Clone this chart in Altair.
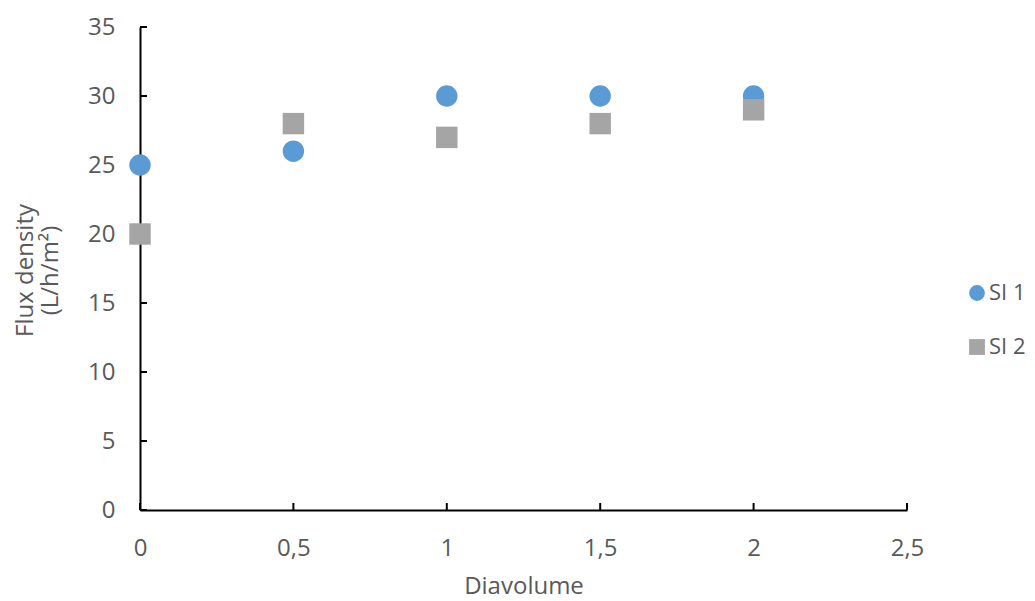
import altair as alt
import pandas as pd

x_vals = [0, 0.5, 1, 1.5, 2]
si1 = [25, 26, 30, 30, 30]
si2 = [20, 28, 27, 28, 29]
series_names = ["SI 1", "SI 2"]
x_ticks = [0, 0.5, 1, 1.5, 2, 2.5]
y_ticks = [0, 5, 10, 15, 20, 25, 30, 35]

rows = []
for name, vals in zip(series_names, [si1, si2]):
    for xv, yv in zip(x_vals, vals):
        rows.append({"Diavolume": xv, "Flux": yv, "Series": name})
df = pd.DataFrame(rows)

W, H = 767, 483
FONT = "Open Sans"
GREY = "#595959"
FS = 24

xscale = alt.Scale(domain=[0, 2.5], nice=False, zero=False)
yscale = alt.Scale(domain=[0, 35], nice=False)

points = alt.Chart(df).mark_point(filled=True, opacity=1, strokeWidth=0, size=460).encode(
    x=alt.X("Diavolume:Q", scale=xscale,
            axis=alt.Axis(values=x_ticks, title="Diavolume", grid=False, ticks=False,
                          domainColor="black", domainWidth=2, labelFlush=False,
                          labelExpr="replace(toString(datum.value), '.', ',')",
                          labelFont=FONT, labelFontSize=FS, labelColor=GREY, labelPadding=38,
                          labelBaseline="middle",
                          titleFont=FONT, titleFontSize=FS, titleColor=GREY, titleFontWeight="normal",
                          titleY=76, titleBaseline="middle")),
    y=alt.Y("Flux:Q", scale=yscale,
            axis=alt.Axis(values=y_ticks, title=["Flux density", "(L/h/m²)"], grid=False, ticks=False,
                          domainColor="black", domainWidth=2, labelFlush=False,
                          labelFont=FONT, labelFontSize=FS, labelColor=GREY, labelPadding=25,
                          titleFont=FONT, titleFontSize=FS, titleColor=GREY, titleFontWeight="normal",
                          titleX=-115, titleY=243, titleLineHeight=25, titleAlign="center",
                          titleBaseline="middle")),
    color=alt.Color("Series:N", scale=alt.Scale(domain=series_names, range=["#5B9BD5", "#A5A5A5"]),
                    legend=alt.Legend(title=None, orient="none", legendX=826, legendY=255,
                                      padding=0,
                                      labelFont=FONT, labelFontSize=22, labelColor=GREY,
                                      symbolSize=250, rowPadding=32, labelOffset=1)),
    shape=alt.Shape("Series:N", scale=alt.Scale(domain=series_names, range=["circle", "square"])),
)

xtick_df = pd.DataFrame({"t": x_ticks})
ytick_df = pd.DataFrame({"t": y_ticks})

xticks = alt.Chart(xtick_df).mark_rule(color="black", strokeWidth=2).encode(
    x=alt.X("t:Q", scale=xscale),
    y=alt.value(H),
    y2=alt.value(H - 7),
)
yticks = alt.Chart(ytick_df).mark_rule(color="black", strokeWidth=2).encode(
    y=alt.Y("t:Q", scale=yscale),
    x=alt.value(0),
    x2=alt.value(7),
)

chart = alt.layer(xticks, yticks, points).properties(
    width=W, height=H,
    background="white",
    autosize=alt.AutoSizeParams(type="none"),
    padding={"left": 132, "top": 19, "right": 120, "bottom": 90},
).configure_view(strokeWidth=0)

chart.save("out.html", embed_options={"renderer": "svg", "actions": False})
